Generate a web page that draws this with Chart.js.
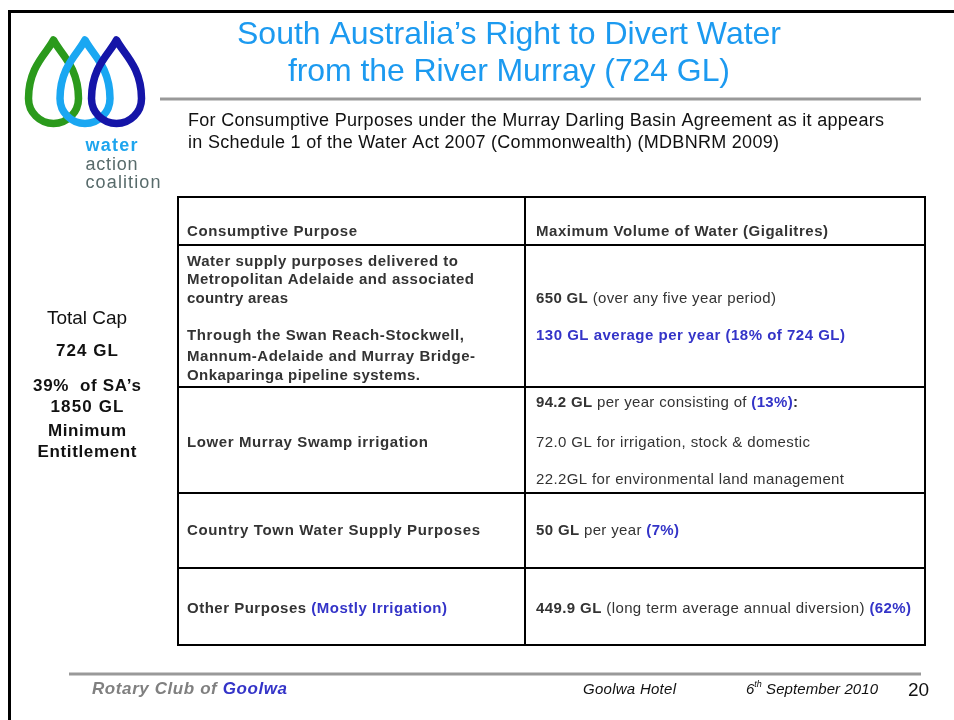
<!DOCTYPE html>
<html><head><meta charset="utf-8">
<script src="https://cdn.jsdelivr.net/npm/chart.js@4.4.1/dist/chart.umd.min.js"></script>
<style>html,body{margin:0;padding:0;background:#fff;overflow:hidden}canvas{display:block}</style>
</head><body><canvas id="c" width="954" height="720"></canvas>
<script>
// ---------- data ----------
const titleLines = ["South Australia\u2019s Right to Divert Water", "from the River Murray (724 GL)"];
const subtitleLines = ["For Consumptive Purposes under the Murray Darling Basin Agreement as it appears",
                       "in Schedule 1 of the Water Act 2007 (Commonwealth) (MDBNRM 2009)"];
const columnHeaders = ["Consumptive Purpose", "Maximum Volume of Water (Gigalitres)"];
const purposes = ["Water supply purposes delivered to Metropolitan Adelaide and associated country areas",
                  "Lower Murray Swamp irrigation", "Country Town Water Supply Purposes", "Other Purposes"];
const volumesGL = [130, 94.2, 50, 449.9];
const sharePct = [18, 13, 7, 62];
const totalCapGL = 724;
const saEntitlementGL = 1850;
const sideNotes = ["Total Cap", "724 GL", "39%  of SA\u2019s", "1850 GL", "Minimum", "Entitlement"];
const logoWords = ["water", "action", "coalition"];
const footerTexts = ["Rotary Club of ", "Goolwa", "Goolwa Hotel", "6", "th", " September 2010", "20"];

// cell contents: lines of [text, style] runs (b = bold, n = normal, bb = bold blue)
const leftCells = [
  [[["Water supply purposes delivered to","b"]],[["Metropolitan Adelaide and associated","b"]],[["country areas","b"]],
   [["Through the Swan Reach-Stockwell,","b"]],[["Mannum-Adelaide and Murray Bridge-","b"]],[["Onkaparinga pipeline systems.","b"]]],
  [[[purposes[1],"b"]]],
  [[[purposes[2],"b"]]],
  [[[purposes[3]+" ","b"],["(Mostly Irrigation)","bb"]]]
];
const rightCells = [
  [[["650 GL","b"],[" (over any five year period)","n"]],
   [[volumesGL[0]+" GL average per year ("+sharePct[0]+"% of "+totalCapGL+" GL)","bb"]]],
  [[[volumesGL[1]+" GL","b"],[" per year consisting of ","n"],["("+sharePct[1]+"%)","bb"],[":","b"]],
   [["72.0 GL for irrigation, stock & domestic","n"]],
   [["22.2GL for environmental land management","n"]]],
  [[[volumesGL[2]+" GL","b"],[" per year ","n"],["("+sharePct[2]+"%)","bb"]]],
  [[[volumesGL[3]+" GL","b"],[" (long term average annual diversion) ","n"],["("+sharePct[3]+"%)","bb"]]]
];

// ---------- layout (slide units = px) ----------
const L = {
  tableX: [178, 525, 925],
  tableY: [197, 245, 387, 493, 568, 645],
  headerY: 232, headerW: [170, 292],
  leftTextX: 187, rightTextX: 536,
  leftLineY: [[262, 280, 298.5, 335.5, 357, 375.5], [442.5], [531], [609]],
  leftLineW: [[271, 287, 101, 277, 288, 233], [241], [293], [260]],
  rightLineY: [[298.5, 336], [403, 442.5, 480], [531], [609]],
  rightLineW: [[240, 309], [262, 274, 308], [143], [375]],
  titleY: [35, 72.5], titleW: [544, 442], titleCX: 509,
  subY: [121, 143], subW: [696, 591],
  sideCX: 87, sideY: [318.5, 351, 386, 407.5, 431, 452.5], sideW: [80, 62, 108, 73, 78, 99],
  logoX: 85.5, logoY: [146.5, 165.5, 183.5], logoW: [52, 52, 75]
};
const FONT = "'Liberation Sans', Arial, sans-serif";
const DARK = "#333333", BLUE = "#3434c8", TITLE = "#1c9af0";
const TS = 15; // table font size

function fontFor(style, size, italic) {
  return (italic ? "italic " : "") + (style === "n" ? "" : "bold ") + size + "px " + FONT;
}
// draw runs starting at pixel px, fitted via letter spacing to target width
function drawFit(ctx, px, py, runs, size, target, colorN, italic) {
  const hasLS = "letterSpacing" in ctx;
  if (hasLS) ctx.letterSpacing = "0px";
  let w0 = 0, n = 0;
  for (const [t, s] of runs) { ctx.font = fontFor(s, size, italic); w0 += ctx.measureText(t).width; n += t.length; }
  let sp = target ? (target - w0) / Math.max(1, n - 1) : 0;
  ctx.save();
  ctx.textBaseline = "middle"; ctx.textAlign = "left";
  if (hasLS) ctx.letterSpacing = sp + "px";
  else if (target) { ctx.translate(px, 0); ctx.scale(target / w0, 1); ctx.translate(-px, 0); }
  for (const [t, s, c] of runs) {
    ctx.font = fontFor(s, size, italic);
    ctx.fillStyle = c || (s === "bb" ? BLUE : colorN);
    ctx.fillText(t, px, py);
    px += ctx.measureText(t).width;
  }
  ctx.restore();
  if (hasLS) ctx.letterSpacing = "0px";
}

function drop(ctx, X, Y, cx, tipY, cy, r, color) {
  const h = cy - tipY;
  ctx.beginPath();
  ctx.moveTo(X(cx), Y(tipY));
  ctx.bezierCurveTo(X(cx + 0.25 * r), Y(tipY + 0.22 * h), X(cx + r), Y(cy - 0.55 * h), X(cx + r), Y(cy));
  ctx.arc(X(cx), Y(cy), r, 0, Math.PI, false);
  ctx.bezierCurveTo(X(cx - r), Y(cy - 0.55 * h), X(cx - 0.25 * r), Y(tipY + 0.22 * h), X(cx), Y(tipY));
  ctx.closePath();
  ctx.lineJoin = "round";
  ctx.lineWidth = 7.5; ctx.strokeStyle = color; ctx.stroke();
}

const slidePlugin = {
  id: "slide",
  afterDraw(chart) {
    const ctx = chart.ctx, xs = chart.scales.x, ys = chart.scales.y;
    const X = v => xs.getPixelForValue(v), Y = v => ys.getPixelForValue(v);
    ctx.save();
    // frame
    ctx.strokeStyle = "#000"; ctx.lineWidth = 3;
    ctx.beginPath(); ctx.moveTo(X(8), Y(11.5)); ctx.lineTo(X(954), Y(11.5));
    ctx.moveTo(X(9.5), Y(10)); ctx.lineTo(X(9.5), Y(720)); ctx.stroke();
    // logo
    drop(ctx, X, Y, 53.5, 40, 98.5, 25, "#2b9a1c");
    drop(ctx, X, Y, 85, 40, 98.5, 25, "#1aa7f2");
    drop(ctx, X, Y, 116.5, 40, 98.5, 25, "#1515a8");
    logoWords.forEach((t, i) =>
      drawFit(ctx, X(L.logoX), Y(L.logoY[i]), [[t, i === 0 ? "b" : "n"]], 18, L.logoW[i], i === 0 ? "#1ea5ee" : "#586b6b"));
    // title
    titleLines.forEach((t, i) =>
      drawFit(ctx, X(L.titleCX - L.titleW[i] / 2), Y(L.titleY[i]), [[t, "n"]], 32, L.titleW[i], TITLE));
    ctx.strokeStyle = "#999"; ctx.lineWidth = 3;
    ctx.beginPath(); ctx.moveTo(X(160), Y(99)); ctx.lineTo(X(921), Y(99)); ctx.stroke();
    // subtitle
    subtitleLines.forEach((t, i) => drawFit(ctx, X(188), Y(L.subY[i]), [[t, "n"]], 18, L.subW[i], "#111"));
    // side notes
    sideNotes.forEach((t, i) =>
      drawFit(ctx, X(L.sideCX - L.sideW[i] / 2), Y(L.sideY[i]), [[t, i === 0 ? "n" : "b"]], i === 0 ? 19 : 17, L.sideW[i], "#111"));
    // table grid
    ctx.strokeStyle = "#000"; ctx.lineWidth = 2;
    ctx.beginPath();
    for (const xv of L.tableX) { ctx.moveTo(X(xv), Y(L.tableY[0]) - 1); ctx.lineTo(X(xv), Y(L.tableY[L.tableY.length - 1]) + 1); }
    for (const yv of L.tableY) { ctx.moveTo(X(L.tableX[0]) - 1, Y(yv)); ctx.lineTo(X(L.tableX[2]) + 1, Y(yv)); }
    ctx.stroke();
    // header + cells
    drawFit(ctx, X(L.leftTextX), Y(L.headerY), [[columnHeaders[0], "b"]], TS, L.headerW[0], DARK);
    drawFit(ctx, X(L.rightTextX), Y(L.headerY), [[columnHeaders[1], "b"]], TS, L.headerW[1], DARK);
    leftCells.forEach((cell, r) => cell.forEach((line, k) =>
      drawFit(ctx, X(L.leftTextX), Y(L.leftLineY[r][k]), line, TS, L.leftLineW[r][k], DARK)));
    rightCells.forEach((cell, r) => cell.forEach((line, k) =>
      drawFit(ctx, X(L.rightTextX), Y(L.rightLineY[r][k]), line, TS, L.rightLineW[r][k], DARK)));
    // footer
    ctx.strokeStyle = "#999"; ctx.lineWidth = 3;
    ctx.beginPath(); ctx.moveTo(X(69), Y(674)); ctx.lineTo(X(921), Y(674)); ctx.stroke();
    drawFit(ctx, X(92), Y(689.5), [[footerTexts[0], "b", "#808080"], [footerTexts[1], "b", "#3434c8"]], 17, 195, "#808080", true);
    drawFit(ctx, X(583), Y(689.5), [[footerTexts[2], "n"]], 15, 93, "#111", true);
    drawFit(ctx, X(746), Y(689.5), [[footerTexts[3], "n"]], 15, 0, "#111", true);
    ctx.font = "italic 15px " + FONT;
    const w6 = ctx.measureText(footerTexts[3]).width;
    drawFit(ctx, X(746) + w6, Y(684), [[footerTexts[4], "n"]], 9, 0, "#111", true);
    ctx.font = "italic 9px " + FONT;
    const wth = ctx.measureText(footerTexts[4]).width;
    drawFit(ctx, X(746) + w6 + wth, Y(689.5), [[footerTexts[5], "n"]], 15, 132 - w6 - wth, "#111", true);
    drawFit(ctx, X(908), Y(690.5), [[footerTexts[6], "n"]], 19, 0, "#111");
    ctx.restore();
  }
};

new Chart(document.getElementById("c"), {
  type: "scatter",
  data: { datasets: [{ data: [], pointRadius: 0 }] },
  options: {
    responsive: false, animation: false,
    layout: { padding: 0 },
    plugins: { legend: { display: false }, tooltip: { enabled: false } },
    scales: {
      x: { type: "linear", min: 0, max: 954, display: false },
      y: { type: "linear", min: 0, max: 720, reverse: true, display: false }
    }
  },
  plugins: [slidePlugin]
});
</script>
</body></html>
